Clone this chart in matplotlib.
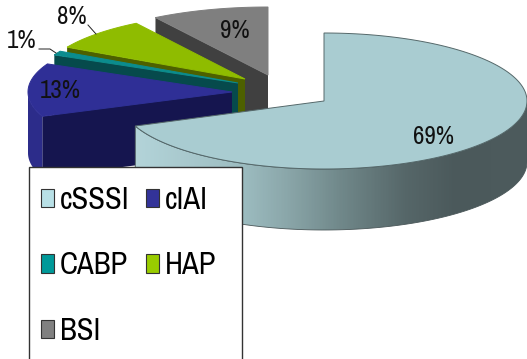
import numpy as np
import matplotlib
matplotlib.use("Agg")
import matplotlib.pyplot as plt
from matplotlib.colors import LinearSegmentedColormap
from matplotlib.patches import Polygon, Rectangle

# Share of each infection type, in percent
categories = ["cSSSI", "cIAI", "CABP", "HAP", "BSI"]
shares = [69, 13, 1, 8, 9]

# Colours per slice: top face, cut face, outer wall, legend swatch
top_colors = ["#a9ccd1", "#2f2f96", "#0b8c8e", "#8fbc00", "#7f7f7f"]
cut_colors = ["#a9ccd1", "#15154f", "#064a4c", "#4d6000", "#404040"]
wall_colors = ["#6f8a8c", "#2c2c8a", "#064a4c", "#4d6000", "#404040"]
swatch_colors = ["#b8e0e6", "#333399", "#009999", "#99cc00", "#808080"]

# Projection of the exploded pie on the canvas, in pixels
centers = [(324, 101), (232, 92), (238, 83), (245, 79), (268, 75)]
radius_x = [203, 204, 203, 203, 210]
radius_y = [68, 66, 66, 66, 68]
depth = 61

plt.rcParams["font.family"] = ["Archivo Narrow", "Roboto Condensed", "Liberation Sans", "DejaVu Sans"]

W, H = 527, 359
fig = plt.figure(figsize=(W / 100, H / 100), dpi=100)
ax = fig.add_axes([0, 0, 1, 1])
ax.set_xlim(0, W)
ax.set_ylim(H, 0)
ax.axis("off")


def rim(i, a0, a1, n=80):
    """Points on the elliptical rim; angles run clockwise from twelve o'clock."""
    t = np.radians(np.linspace(a0, a1, n))
    cx, cy = centers[i]
    return np.column_stack([cx + radius_x[i] * np.sin(t), cy - radius_y[i] * np.cos(t)])


edges = np.concatenate([[0], np.cumsum(shares)]) * 3.6
shift = np.array([0, depth])

# Back slices are painted first so nearer ones cover them
for i in [4, 3, 2, 1, 0]:
    a0, a1 = edges[i], edges[i + 1]
    apex = np.array(centers[i], dtype=float)
    base_z = 2 + (4 - i)

    if i == 0:
        # Outer wall with shading that darkens towards the right
        arc = rim(i, 90, a1, 160)
        wall_path = Polygon(np.vstack([arc, (arc + shift)[::-1]]), closed=True,
                            facecolor="none", edgecolor="#4a5759", lw=0.6, zorder=base_z)
        ax.add_patch(wall_path)
        stops = [(0.0, "#b3d4d9"), (0.27, "#9dbdc1"), (0.39, "#8aa6a9"), (0.52, "#71898b"),
                 (0.69, "#566769"), (0.82, "#4b595b"), (1.0, "#4d5b5d")]
        cmap = LinearSegmentedColormap.from_list("wall", stops)
        img = ax.imshow(np.linspace(0, 1, 400)[None, :], cmap=cmap, aspect="auto",
                        extent=(135, W, 240, 90), zorder=base_z - 0.1)
        img.set_clip_path(wall_path)
    else:
        # Radial cut face facing the viewer
        outer = rim(i, a0, a0, 1)[0]
        ax.add_patch(Polygon([apex, outer, outer + shift, apex + shift],
                             closed=True, facecolor=cut_colors[i], edgecolor="none", zorder=base_z))
        if a0 < 270:
            arc = rim(i, a0, min(a1, 270))
            ax.add_patch(Polygon(np.vstack([arc, (arc + shift)[::-1]]), closed=True,
                                 facecolor=wall_colors[i], edgecolor="none", zorder=base_z))

    face = np.vstack([apex, rim(i, a0, a1, 200)])
    ax.add_patch(Polygon(face, closed=True, facecolor=top_colors[i],
                         edgecolor="#55686a" if i == 0 else top_colors[i], lw=0.7, zorder=base_z + 0.1))

# Percentage labels with their leader lines
label_xy = [(434, 137), (60, 90), (22, 41), (72, 17), (235, 31)]
for share, (x, y) in zip(shares, label_xy):
    ax.text(x, y, f"{share}%", ha="center", va="center", fontsize=18, color="#111111", zorder=20)
ax.plot([39, 50, 56], [49, 49, 53], color="#222222", lw=0.7, zorder=20)
ax.plot([88, 96], [25, 34], color="#222222", lw=0.7, zorder=20)

# Legend panel runs off the bottom of the canvas
ax.add_patch(Rectangle((29, 167), 213, 200, facecolor="white", edgecolor="#333333",
                       lw=1.0, zorder=21, clip_on=True))

order = [0, 2, 4, 1, 3]
handles = [Rectangle((0, 0), 1, 1, facecolor=swatch_colors[k], edgecolor="#333333", lw=0.8)
           for k in order]
leg = ax.legend(handles, [categories[k] for k in order], ncols=2, frameon=False,
                loc="upper left", bbox_to_anchor=(41 / W, 1 - 186 / H),
                fontsize=22, borderpad=0, borderaxespad=0,
                handlelength=0.43, handleheight=0.55, handletextpad=0.18,
                labelspacing=1.22, columnspacing=0.55)
leg.set_zorder(22)

fig.savefig("out.png", dpi=100)
